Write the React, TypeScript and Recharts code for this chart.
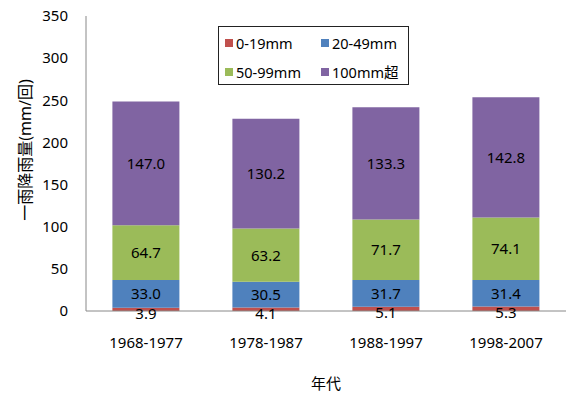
import { Bar, BarChart, LabelList, XAxis, YAxis } from "recharts";

const PERIODS = ["1968-1977", "1978-1987", "1988-1997", "1998-2007"];
const RAIN_0_19 = [3.9, 4.1, 5.1, 5.3];
const RAIN_20_49 = [33.0, 30.5, 31.7, 31.4];
const RAIN_50_99 = [64.7, 63.2, 71.7, 74.1];
const RAIN_100_UP = [147.0, 130.2, 133.3, 142.8];
const Y_TICKS = [0, 50, 100, 150, 200, 250, 300, 350];

const SERIES = [
  { key: "s1", name: "0-19mm", color: "#C0504D" },
  { key: "s2", name: "20-49mm", color: "#4F81BD" },
  { key: "s3", name: "50-99mm", color: "#9BBB59" },
  { key: "s4", name: "100mm超", color: "#8064A2" },
];

const data = PERIODS.map((p, i) => ({
  period: p,
  s1: RAIN_0_19[i],
  s2: RAIN_20_49[i],
  s3: RAIN_50_99[i],
  s4: RAIN_100_UP[i],
}));

const FONT = "'Noto Sans', 'Noto Sans CJK JP', sans-serif";

function LegendBox() {
  return (
    <div
      style={{
        position: "absolute",
        left: 218,
        top: 26,
        border: "1.5px solid #222",
        background: "#fff",
        width: 191,
        height: 59,
        display: "grid",
        gridTemplateColumns: "96px 92px",
        gridTemplateRows: "30px 27px",
        alignItems: "center",
        fontFamily: FONT,
        fontSize: 14.5,
        color: "#000",
        boxSizing: "border-box",
        paddingLeft: 6,
        paddingTop: 1,
      }}
    >
      {SERIES.map((s) => (
        <div key={s.key} style={{ display: "flex", alignItems: "center", whiteSpace: "nowrap" }}>
          <span style={{ width: 8, height: 8, background: s.color, display: "inline-block", marginRight: 3 }} />
          {s.name}
        </div>
      ))}
    </div>
  );
}

const fmt = (v: any) => Number(v).toFixed(1);

const YLabel = () => (
  <text
    x={25}
    y={150}
    transform="rotate(-90 25 150)"
    textAnchor="middle"
    dominantBaseline="central"
    fill="#000"
    fontSize={16}
    fontFamily={FONT}
  >
    一雨降雨量(mm/回)
  </text>
);

export default function App() {
  return (
    <div style={{ position: "absolute", left: 0, top: 0, width: 569, height: 397, background: "#fff" }}>
      <BarChart
        width={569}
        height={397}
        data={data}
        margin={{ top: 16, right: 3, left: 0, bottom: 0 }}
        barCategoryGap="22%"
      >
        <XAxis
          dataKey="period"
          height={86}
          tickLine={false}
          stroke="#888"
          tickSize={6}
          tickMargin={20}
          tick={{ fill: "#000", fontSize: 15, fontFamily: FONT }}
          label={{ value: "年代", position: "insideBottom", offset: 8, fill: "#000", fontSize: 15, fontFamily: FONT }}
        />
        <YAxis
          width={86}
          domain={[0, 350]}
          ticks={Y_TICKS}
          tickLine={false}
          stroke="#888"
          tickMargin={12}
          tick={{ fill: "#000", fontSize: 15, fontFamily: FONT }}
          label={<YLabel />}
        />
        {SERIES.map((s) => (
          <Bar key={s.key} dataKey={s.key} name={s.name} stackId="a" fill={s.color} isAnimationActive={false}>
            <LabelList
              dataKey={s.key}
              position="center"
              formatter={fmt}
              fill="#000"
              fontSize={15}
              fontFamily={FONT}
              dy={s.key === "s1" ? 4 : 0}
            />
          </Bar>
        ))}
      </BarChart>
      <LegendBox />
    </div>
  );
}
